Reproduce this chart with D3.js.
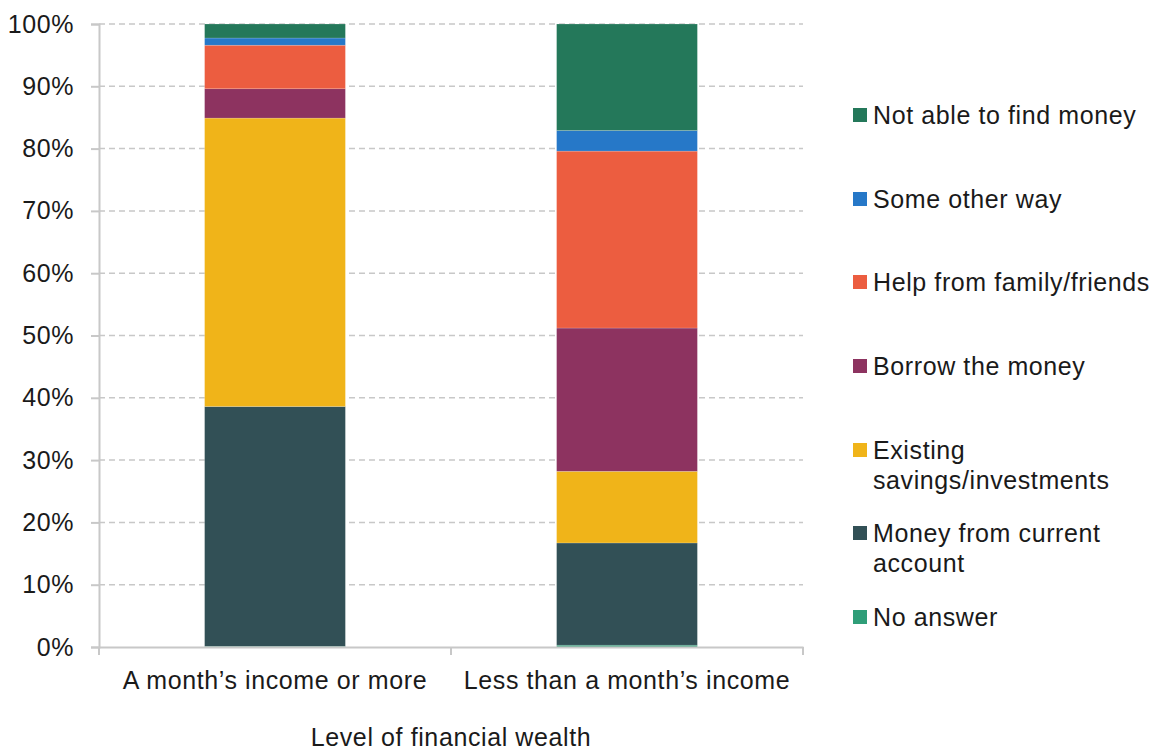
<!DOCTYPE html>
<meta charset="utf-8">
<style>
body { margin: 0; background: #fff; }
text { font-family: "Liberation Sans", Arial, sans-serif; fill: #1a1a1a; letter-spacing: 0.6px; }
.grid line { stroke: #c8c8c8; stroke-dasharray: 6,4; stroke-width: 1.5; }
.axis path, .axis line { stroke: #c8c8c8; stroke-width: 2; }
</style>
<svg width="1155" height="754"></svg>
<script src="https://d3js.org/d3.v7.min.js"></script>
<script>
// data, bottom to top
var categories = ["A month\u2019s income or more", "Less than a month\u2019s income"];
var seriesNames = ["No answer", "Money from current account", "Existing savings/investments",
                   "Borrow the money", "Help from family/friends", "Some other way", "Not able to find money"];
var noAnswer     = [0.1, 0.3];
var currentAcct  = [38.5, 16.4];
var savings      = [46.3, 11.5];
var borrow       = [4.7, 23.0];
var helpFamily   = [7.0, 28.4];
var otherWay     = [1.15, 3.3];
var notAble      = [2.25, 17.1];
var yTicks = [0, 10, 20, 30, 40, 50, 60, 70, 80, 90, 100];

var colors = ["#2f9e78", "#325056", "#f0b419", "#8d3360", "#ec5d40", "#2678c8", "#24785a"];
var legendLines = [["Not able to find money"], ["Some other way"], ["Help from family/friends"],
                   ["Borrow the money"], ["Existing", "savings/investments"],
                   ["Money from current", "account"], ["No answer"]];

var allSeries = [noAnswer, currentAcct, savings, borrow, helpFamily, otherWay, notAble];
var rows = categories.map(function(c, i) {
  var r = {cat: c};
  seriesNames.forEach(function(s, k) { r[s] = allSeries[k][i]; });
  return r;
});

var svg = d3.select("svg"),
    margin = {top: 24, left: 99},
    width = 704, height = 623;

var x = d3.scaleBand().domain(categories).range([0, width]);
var y = d3.scaleLinear().domain([0, 100]).range([height, 0]);

var g = svg.append("g")
    .attr("transform", "translate(" + margin.left + "," + margin.top + ")");

// gridlines
g.append("g").attr("class", "grid")
  .selectAll("line")
  .data(yTicks.slice(1))
  .enter().append("line")
    .attr("x1", 0).attr("x2", width)
    .attr("y1", function(d) { return y(d); })
    .attr("y2", function(d) { return y(d); });

var stack = d3.stack().keys(seriesNames)(rows);
var barW = x.bandwidth() * 0.4;

g.selectAll(".layer")
  .data(stack)
  .enter().append("g")
    .attr("fill", function(d, i) { return colors[i]; })
  .selectAll("rect")
  .data(function(d) { return d; })
  .enter().append("rect")
    .attr("x", function(d) { return x(d.data.cat) + (x.bandwidth() - barW) / 2; })
    .attr("y", function(d) { return y(d[1]); })
    .attr("width", barW)
    .attr("height", function(d) { return y(d[0]) - y(d[1]); })
    .attr("stroke", "rgba(255,255,255,0.35)")
    .attr("stroke-width", 0.5);

// y axis
var yAxis = g.append("g").attr("class", "axis")
    .call(d3.axisLeft(y).tickValues(yTicks).tickSize(8).tickPadding(17)
      .tickFormat(function(d) { return d + "%"; }));
yAxis.selectAll("text").style("font-size", "25px");

// x axis
var xAxis = g.append("g").attr("class", "axis")
    .attr("transform", "translate(0," + height + ")")
    .call(d3.axisBottom(x).tickSize(0).tickPadding(24));
xAxis.selectAll("text").style("font-size", "25px").attr("dy", "0.71em");
xAxis.selectAll(".sep")
  .data([0, width / 2, width])
  .enter().append("line")
    .attr("x1", function(d) { return d; }).attr("x2", function(d) { return d; })
    .attr("y1", 0).attr("y2", 8);

svg.append("text")
    .attr("x", margin.left + width / 2)
    .attr("y", 746)
    .attr("text-anchor", "middle")
    .style("font-size", "25px")
    .text("Level of financial wealth");

// legend
var legendY = [115, 199, 282, 366, 450, 533, 617];
var leg = svg.append("g").attr("transform", "translate(853,0)");
var legColors = colors.slice().reverse();
legendLines.forEach(function(lines, i) {
  var item = leg.append("g").attr("transform", "translate(0," + legendY[i] + ")");
  item.append("rect")
    .attr("x", 0).attr("y", -7).attr("width", 14).attr("height", 14)
    .attr("fill", legColors[i]);
  lines.forEach(function(t, j) {
    item.append("text")
      .attr("x", 20).attr("y", j * 30)
      .attr("dy", "0.35em")
      .style("font-size", "25px")
      .text(t);
  });
});
</script>
